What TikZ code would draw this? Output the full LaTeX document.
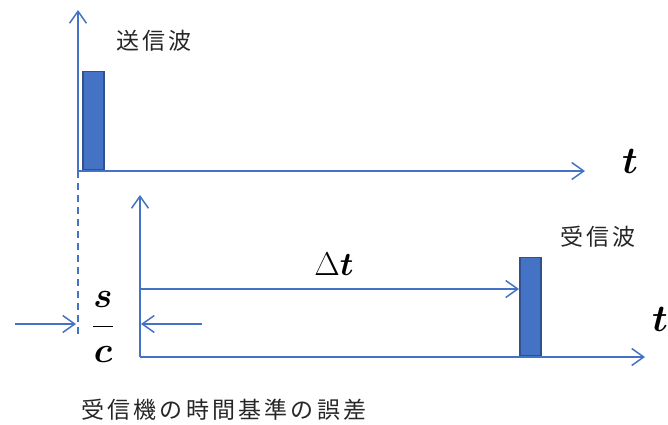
\RequirePackage{fix-cm}
\documentclass[tikz,border=0pt]{standalone}
\usepackage{fontspec}
\newfontfamily\jpfont[LetterSpace=14]{Noto Sans CJK JP}
\usetikzlibrary{arrows.meta}
\definecolor{axisblue}{HTML}{4472C4}
\definecolor{pulseedge}{HTML}{2F528F}
\definecolor{txtgray}{HTML}{262626}
\begin{document}
\begin{tikzpicture}[x=1pt,y=-1pt,
  axis/.style={draw=axisblue,line width=1.5pt,-{Straight Barb[length=12pt,width=17pt,line width=1.5pt]}},
  dash line/.style={draw=axisblue,line width=1.5pt,dash pattern=on 7pt off 5pt},
  pulse/.style={draw=pulseedge,fill=axisblue,line width=1.5pt,inner sep=0pt,minimum width=21pt,anchor=south west},
  jptext/.style={text=txtgray,font=\fontsize{23}{23}\jpfont,inner sep=0pt},
  mathlabel/.style={font=\fontsize{38}{38}\selectfont\boldmath,inner sep=0pt}]
\useasboundingbox (0,0) rectangle (668,424);
% coordinates
\coordinate (o1) at (78,171);
\coordinate (y1) at (78,10);
\coordinate (x1) at (585,171);
\coordinate (d1) at (78,337);
\coordinate (o2) at (140,357);
\coordinate (y2) at (140,195);
\coordinate (x2) at (645,357);
\coordinate (dtS) at (140,289);
\coordinate (la) at (15,324);
\coordinate (lb) at (76,324);
\coordinate (ra) at (202,324);
\coordinate (rb) at (141,324);
% pulses
\node[pulse,minimum height=98pt] (p1) at (82,170) {};
\node[pulse,minimum height=98pt] (p2) at (519,356) {};
% axes
\draw[dash line] (o1) -- (d1);
\draw[axis] (o1) -- (y1);
\draw[axis] (o1) -- (x1);
\draw[axis] (o2) -- (y2);
\draw[axis] (o2) -- (x2);
\draw[axis] (dtS) -- (p2.west |- dtS);
\draw[axis] (la) -- (lb);
\draw[axis] (ra) -- (rb);
% labels
\node[jptext] (tx) at (154,41) {送信波};
\node[jptext] (rx) at (598,237) {受信波};
\node[jptext,anchor=west] (err) at (81,410) {受信機の時間基準の誤差};
\node[mathlabel] (t1) at (630,161) {$t$};
\node[mathlabel] (t2) at (660,319) {$t$};
\node[font=\fontsize{33}{33}\selectfont,inner sep=0pt] (dt) at (334,264) {$\Delta${\boldmath$t$}};
\node[font=\fontsize{36}{36}\selectfont\boldmath,inner sep=0pt] (sc) at (103,327) {$\displaystyle\frac{s}{c}$};
\end{tikzpicture}
\end{document}
